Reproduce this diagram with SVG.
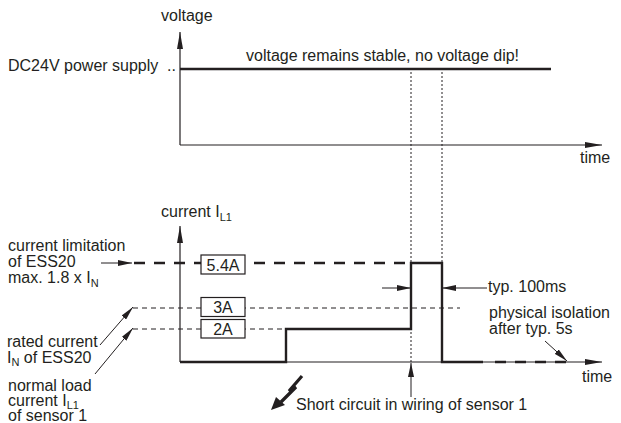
<svg xmlns="http://www.w3.org/2000/svg" width="621" height="423" viewBox="0 0 621 423">
<defs>
<style>
text{font-family:"Liberation Sans",Arial,sans-serif;font-size:16px;fill:#231f20}
.sub{font-size:11px}
.ax{stroke:#231f20;stroke-width:1.2;fill:none}
.thick{stroke:#231f20;stroke-width:2.4;fill:none}
.thin{stroke:#231f20;stroke-width:1;fill:none}
.dot{stroke:#231f20;stroke-width:1;stroke-dasharray:2 2;fill:none}
.dash{stroke:#231f20;stroke-width:1;stroke-dasharray:5 4;fill:none}
.tdash{stroke:#231f20;stroke-width:2.4;stroke-dasharray:11 9;fill:none}
.box{fill:#fff;stroke:#231f20;stroke-width:1.2}
</style>
<marker id="ah" markerWidth="17" markerHeight="7" refX="17" refY="3.5" orient="auto" markerUnits="userSpaceOnUse">
<path d="M0,0.5 L17,3.5 L0,6.5 Z" fill="#231f20"/>
</marker>
<marker id="as" markerWidth="14" markerHeight="6" refX="14" refY="3" orient="auto" markerUnits="userSpaceOnUse">
<path d="M0,0 L14,3 L0,6 Z" fill="#231f20"/>
</marker>
</defs>

<g id="voltage-chart">
<line class="ax" x1="180" y1="145" x2="180" y2="32" marker-end="url(#ah)"/>
<line class="ax" x1="180" y1="145" x2="602" y2="145" marker-end="url(#ah)"/>
<text x="161" y="21">voltage</text>
<text x="580" y="163">time</text>
<text x="8" y="71">DC24V power supply</text>
<text x="167" y="71">..</text>
<line class="thick" x1="180" y1="69" x2="551" y2="69"/>
<text x="246" y="61">voltage remains stable, no voltage dip!</text>
</g>

<g id="current-chart">
<line class="ax" x1="180" y1="362" x2="180" y2="226" marker-end="url(#ah)"/>
<line class="ax" x1="180" y1="362" x2="602" y2="362" marker-end="url(#ah)"/>
<text x="161" y="217">current I<tspan class="sub" dy="4">L1</tspan></text>
<text x="582" y="382">time</text>
</g>

<g id="connectors">
<line class="dot" x1="411" y1="72" x2="411" y2="362"/>
<line class="dot" x1="442" y1="72" x2="442" y2="263"/>
<line class="tdash" x1="134" y1="263" x2="411" y2="263"/>
<line class="dash" x1="133" y1="308" x2="460" y2="308"/>
<line class="dash" x1="133" y1="329" x2="286" y2="329"/>
<path class="thick" d="M180,362 H286 V329 H411 V263 H442 V362 H483"/>
<line class="tdash" x1="495" y1="362" x2="567" y2="362" stroke-dasharray="10 8"/>
<line class="thin" x1="101" y1="263" x2="132" y2="263" marker-end="url(#as)"/>
<line class="thin" x1="100" y1="345" x2="133" y2="307" marker-end="url(#as)"/>
<line class="thin" x1="95" y1="374" x2="133" y2="328" marker-end="url(#as)"/>
<line class="thin" x1="382" y1="288" x2="411" y2="288" marker-end="url(#as)"/>
<line class="thin" x1="487" y1="288" x2="442" y2="288" marker-end="url(#as)"/>
<line class="thin" x1="545" y1="341" x2="567" y2="361" marker-end="url(#as)"/>
<line class="thin" x1="411" y1="397" x2="411" y2="363" marker-end="url(#as)"/>
<polyline points="302,376 289,391 296,387 281,402" fill="none" stroke="#231f20" stroke-width="3.2" stroke-linejoin="miter"/>
<path d="M271,410 L276,397 L285,405 Z" fill="#231f20"/>
</g>

<g id="box-5-4A">
<rect class="box" x="201" y="255" width="44" height="19"/>
<text x="223" y="270.5" text-anchor="middle">5.4A</text>
</g>
<g id="box-3A">
<rect class="box" x="201" y="297.5" width="44" height="19"/>
<text x="223" y="313" text-anchor="middle">3A</text>
</g>
<g id="box-2A">
<rect class="box" x="201" y="319.5" width="44" height="18.5"/>
<text x="223" y="334.5" text-anchor="middle">2A</text>
</g>

<g id="label-limitation">
<text x="8" y="251">current limitation</text>
<text x="8" y="267">of ESS20</text>
<text x="8" y="283">max. 1.8 x I<tspan class="sub" dy="4">N</tspan></text>
</g>
<g id="label-rated">
<text x="7" y="347">rated current</text>
<text x="7" y="363">I<tspan class="sub" dy="3">N</tspan><tspan dy="-3"> of ESS20</tspan></text>
</g>
<g id="label-normal">
<text x="8" y="391">normal load</text>
<text x="8" y="406">current I<tspan class="sub" font-size="10" dy="3">L1</tspan></text>
<text x="8" y="421">of sensor 1</text>
</g>
<g id="label-typ">
<text x="488" y="292">typ. 100ms</text>
</g>
<g id="label-isolation">
<text x="489" y="318">physical isolation</text>
<text x="489" y="334">after typ. 5s</text>
</g>
<g id="label-short">
<text x="296" y="410">Short circuit in wiring of sensor 1</text>
</g>
</svg>
